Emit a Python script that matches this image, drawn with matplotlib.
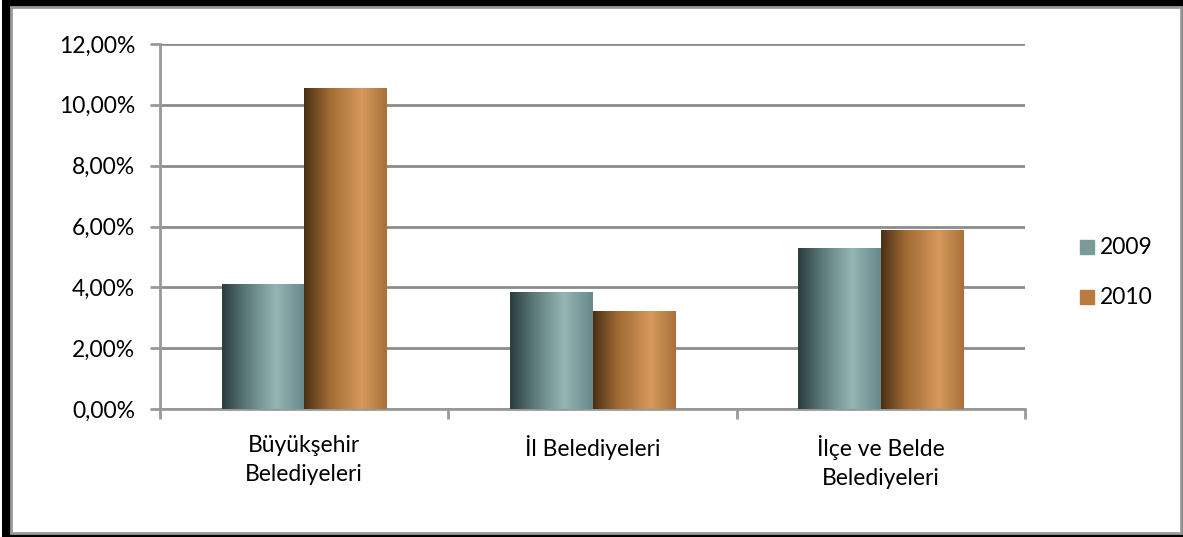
import matplotlib
matplotlib.use("Agg")
import matplotlib.pyplot as plt
import numpy as np
from matplotlib.patches import Rectangle
from matplotlib.colors import LinearSegmentedColormap
from matplotlib.ticker import FuncFormatter, FixedLocator

categories = ["Büyükşehir\nBelediyeleri", "İl Belediyeleri", "İlçe ve Belde\nBelediyeleri"]
series_names = ["2009", "2010"]
values_2009 = [4.11, 3.86, 5.29]
values_2010 = [10.56, 3.23, 5.88]
y_ticks = [0, 2, 4, 6, 8, 10, 12]

plt.rcParams['font.family'] = ['Lato', 'DejaVu Sans']
FS = 16.5

W, H = 1183, 537
fig = plt.figure(figsize=(W / 100, H / 100), dpi=100)
fig.patch.set_facecolor("white")


def px_rect(x0, y0, x1, y1, **kw):
    # pixel coords, y from top
    return Rectangle((x0 / W, 1 - y1 / H), (x1 - x0) / W, (y1 - y0) / H,
                     transform=fig.transFigure, **kw)


# black shadow/frame, then white chart area with gray border
fig.add_artist(px_rect(2, 0, 1183, 537, facecolor="black", edgecolor="none", zorder=-3))
fig.add_artist(px_rect(11, 7, 1181, 533, facecolor="white", edgecolor="#9a9a9a",
                       linewidth=2, zorder=-2))

ax_l, ax_r, ax_t, ax_b = 160, 1025, 44, 409
ax = fig.add_axes([ax_l / W, 1 - ax_b / H, (ax_r - ax_l) / W, (ax_b - ax_t) / H])
ax.patch.set_alpha(0)
ax.set_xlim(0, 3)
ax.set_ylim(0, 12)

for s in ["top", "right"]:
    ax.spines[s].set_visible(False)
ax.spines["left"].set_color("#999999")
ax.spines["left"].set_linewidth(2)
ax.spines["bottom"].set_color("#999999")
ax.spines["bottom"].set_linewidth(2)

ax.yaxis.set_major_locator(FixedLocator(y_ticks))
ax.yaxis.set_major_formatter(FuncFormatter(lambda v, p: f"{v:.2f}%".replace(".", ",")))
ax.tick_params(axis="y", length=7, width=2, color="#999999", labelsize=FS, pad=11)
ax.set_yticks(y_ticks)
ax.grid(axis="y", color="#8c8c8c", linewidth=2)
ax.set_axisbelow(True)

ax.set_xticks([0, 1, 2, 3])
ax.set_xticklabels([])
ax.tick_params(axis="x", length=7, width=2, color="#999999")
for i, c in enumerate(categories):
    ax.text(i + 0.5, -0.85, c, ha="center", va="top", fontsize=FS, linespacing=1.45)

teal = LinearSegmentedColormap.from_list("teal", [(0, "#2c3d3d"), (0.3, "#5e7c7c"),
                                                   (0.65, "#95b5b5"), (1.0, "#688a8a")])
orange = LinearSegmentedColormap.from_list("orange", [(0, "#4a2f16"), (0.3, "#a06a34"),
                                                       (0.7, "#d6995a"), (1.0, "#a8703a")])
grad = np.linspace(0, 1, 256).reshape(1, -1)

bw = 0.286
for i in range(3):
    for j, (vals, cm) in enumerate([(values_2009, teal), (values_2010, orange)]):
        x0 = i + 0.5 - bw + j * bw
        v = vals[i]
        im = ax.imshow(grad, cmap=cm, extent=[x0, x0 + bw, 0, v], aspect="auto", zorder=3)
        r = Rectangle((x0, 0), bw, v, transform=ax.transData, facecolor="none", edgecolor="none")
        ax.add_patch(r)
        im.set_clip_path(r)
ax.set_xlim(0, 3)
ax.set_ylim(0, 12)

# legend
legend_colors = ["#7b9a9a", "#b97c3e"]
for k, (name, col) in enumerate(zip(series_names, legend_colors)):
    yc = 247 + 50 * k
    fig.add_artist(px_rect(1080, yc - 7, 1094, yc + 7, color=col))
    fig.text(1100 / W, 1 - yc / H, name, ha="left", va="center", fontsize=FS)

fig.savefig("out.png", dpi=100)
